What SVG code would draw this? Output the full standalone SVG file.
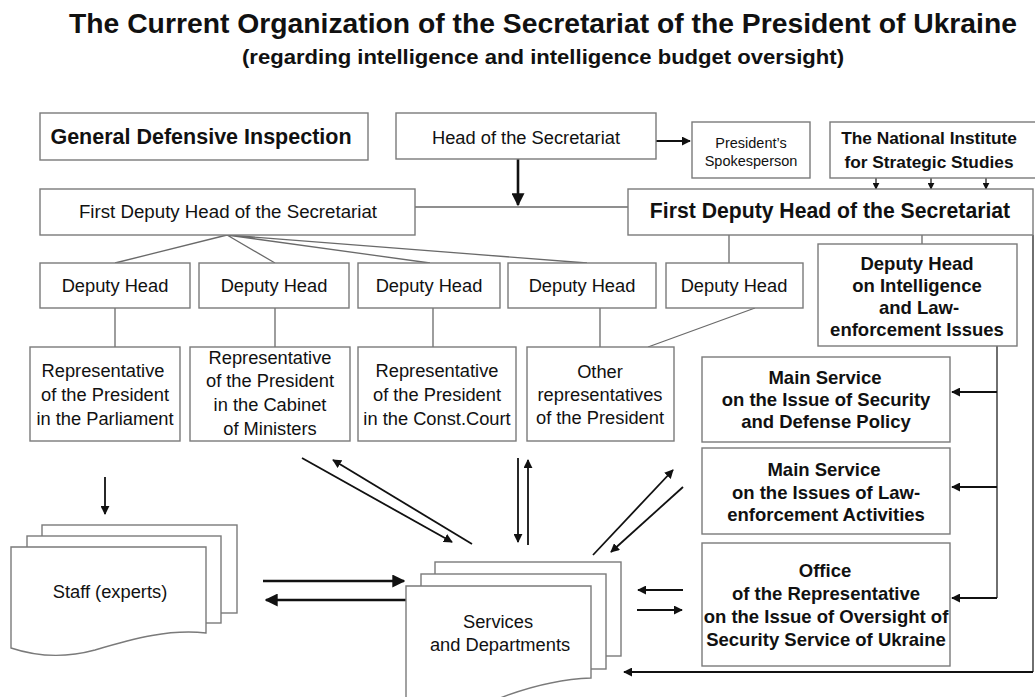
<svg xmlns="http://www.w3.org/2000/svg" width="1035" height="697" viewBox="0 0 1035 697">
<defs>
<style>
.bx{fill:#fff;stroke:#7a7a7a;stroke-width:1.4}
.t{font-family:"Liberation Sans",Arial,sans-serif;font-size:18.3px;fill:#111;text-anchor:middle}
.b{font-family:"Liberation Sans",Arial,sans-serif;font-size:18.5px;font-weight:bold;fill:#111;text-anchor:middle}
.gl{stroke:#6a6a6a;stroke-width:1.3;fill:none}
.ar{stroke:#111;stroke-width:1.8;fill:none;marker-end:url(#ah)}
.tk{stroke:#111;stroke-width:2.6;fill:none;marker-end:url(#ah)}
.ln{stroke:#333;stroke-width:1.4;fill:none}
</style>
<marker id="ah" viewBox="0 0 10 10" refX="9" refY="5" markerWidth="5" markerHeight="5" orient="auto" markerUnits="strokeWidth">
<path d="M0,0 L10,5 L0,10 Z" fill="#111"/>
</marker>
<marker id="ahs" viewBox="0 0 10 10" refX="9" refY="5" markerWidth="7" markerHeight="7" orient="auto" markerUnits="userSpaceOnUse">
<path d="M0,0 L10,5 L0,10 Z" fill="#111"/>
</marker>
</defs>
<rect width="1035" height="697" fill="#fff"/>
<g id="title">
<text x="543" y="33" textLength="948" lengthAdjust="spacingAndGlyphs" style="font-family:'Liberation Sans',Arial,sans-serif;font-size:27px;font-weight:bold;fill:#111" text-anchor="middle">The Current Organization of the Secretariat of the President of Ukraine</text>
<text x="543" y="64" textLength="602" lengthAdjust="spacingAndGlyphs" style="font-family:'Liberation Sans',Arial,sans-serif;font-size:20px;font-weight:bold;fill:#111" text-anchor="middle">(regarding intelligence and intelligence budget oversight)</text>
</g>
<g id="connectors">
<path class="tk" d="M518,158 V205"/>
<path class="ar" d="M656,141 H690"/>
<path class="ln" d="M876,178 V189" marker-end="url(#ahs)"/>
<path class="ln" d="M931,178 V189" marker-end="url(#ahs)"/>
<path class="ln" d="M986,178 V189" marker-end="url(#ahs)"/>
<path class="gl" d="M415,207 H628"/>
<path class="gl" d="M227,235 L115,263 M227,235 L275,263 M227,235 L430,263 M227,235 L587,263"/>
<path class="gl" d="M729,235 V263 M922,235 V244"/>
<path class="gl" d="M115,308 V347 M275,308 V347 M433,308 V347 M600,308 V347 M755,308 L648,347"/>
<path class="ln" d="M997,346 V598"/>
<path class="ar" d="M997,392 H952"/>
<path class="ar" d="M997,487 H952"/>
<path class="ar" d="M997,598 H952"/>
<path class="ln" d="M1033,235 V672"/>
<path class="ar" d="M1033,672 H624"/>
<path class="ar" d="M105,477 V514"/>
<path class="tk" d="M263,581 H404"/>
<path class="tk" d="M406,600 H266"/>
<path class="ar" d="M302,458 L452,542"/>
<path class="ar" d="M472,544 L333,460"/>
<path class="ar" d="M518,458 V542"/>
<path class="ar" d="M528,545 V460"/>
<path class="ar" d="M593,555 L673,470"/>
<path class="ar" d="M683,487 L611,552"/>
<path class="ar" d="M683,590 H638"/>
<path class="ar" d="M637,610 H682"/>
</g>
<g id="n-gdi">
<rect class="bx" x="40" y="113" width="328" height="47"/>
<text class="b" x="201" y="144" style="font-size:21.5px">General Defensive Inspection</text>
</g>
<g id="n-head">
<rect class="bx" x="396" y="113" width="260" height="46"/>
<text class="t" x="526" y="144">Head of the Secretariat</text>
</g>
<g id="n-spokes">
<rect class="bx" x="692" y="122" width="118" height="56"/>
<text class="t" x="751" y="148" style="font-size:14.5px">President’s</text>
<text class="t" x="751" y="166" style="font-size:14.5px">Spokesperson</text>
</g>
<g id="n-nisis">
<rect class="bx" x="830" y="122" width="210" height="56"/>
<text class="b" x="929" y="144" style="font-size:17.3px">The National Institute</text>
<text class="b" x="929" y="168" style="font-size:17.3px">for Strategic Studies</text>
</g>
<g id="n-fd-left">
<rect class="bx" x="40" y="189" width="375" height="46"/>
<text class="t" x="228" y="218" style="font-size:18.7px">First Deputy Head of the Secretariat</text>
</g>
<g id="n-fd-right">
<rect class="bx" x="628" y="189" width="405" height="46"/>
<text class="b" x="830" y="218" style="font-size:21.2px">First Deputy Head of the Secretariat</text>
</g>
<g id="n-dh1"><rect class="bx" x="40" y="263" width="150" height="45"/><text class="t" x="115" y="292">Deputy Head</text></g>
<g id="n-dh2"><rect class="bx" x="199" y="263" width="150" height="45"/><text class="t" x="274" y="292">Deputy Head</text></g>
<g id="n-dh3"><rect class="bx" x="358" y="263" width="142" height="45"/><text class="t" x="429" y="292">Deputy Head</text></g>
<g id="n-dh4"><rect class="bx" x="508" y="263" width="148" height="45"/><text class="t" x="582" y="292">Deputy Head</text></g>
<g id="n-dh5"><rect class="bx" x="666" y="263" width="137" height="45"/><text class="t" x="734" y="292">Deputy Head</text></g>
<g id="n-dhi">
<rect class="bx" x="818" y="244" width="199" height="102"/>
<text class="b" x="917" y="270">Deputy Head</text>
<text class="b" x="917" y="292">on Intelligence</text>
<text class="b" x="919" y="314">and Law-</text>
<text class="b" x="917" y="336">enforcement Issues</text>
</g>
<g id="n-r1">
<rect class="bx" x="30" y="347" width="150" height="94"/>
<text class="t" x="103" y="377">Representative</text>
<text class="t" x="105" y="401">of the President</text>
<text class="t" x="105" y="425">in the Parliament</text>
</g>
<g id="n-r2">
<rect class="bx" x="190" y="347" width="160" height="94"/>
<text class="t" x="270" y="364">Representative</text>
<text class="t" x="270" y="387">of the President</text>
<text class="t" x="270" y="411">in the Cabinet</text>
<text class="t" x="270" y="435">of Ministers</text>
</g>
<g id="n-r3">
<rect class="bx" x="358" y="347" width="158" height="94"/>
<text class="t" x="437" y="377">Representative</text>
<text class="t" x="437" y="401">of the President</text>
<text class="t" x="437" y="425">in the Const.Court</text>
</g>
<g id="n-other">
<rect class="bx" x="527" y="347" width="147" height="94"/>
<text class="t" x="600" y="378">Other</text>
<text class="t" x="600" y="401">representatives</text>
<text class="t" x="600" y="424">of the President</text>
</g>
<g id="n-ms1">
<rect class="bx" x="702" y="357" width="248" height="85"/>
<text class="b" x="825" y="384">Main Service</text>
<text class="b" x="826" y="406">on the Issue of Security</text>
<text class="b" x="826" y="428">and Defense Policy</text>
</g>
<g id="n-ms2">
<rect class="bx" x="702" y="448" width="248" height="86"/>
<text class="b" x="824" y="476">Main Service</text>
<text class="b" x="826" y="499">on the Issues of Law-</text>
<text class="b" x="826" y="521">enforcement Activities</text>
</g>
<g id="n-office">
<rect class="bx" x="702" y="543" width="248" height="123"/>
<text class="b" x="825" y="577">Office</text>
<text class="b" x="826" y="600">of the Representative</text>
<text class="b" x="826" y="623">on the Issue of Oversight of</text>
<text class="b" x="826" y="646">Security Service of Ukraine</text>
</g>
<g id="n-staff">
<rect class="bx" x="42" y="525" width="195" height="88"/>
<rect class="bx" x="27" y="536" width="194" height="87"/>
<path class="bx" d="M11,547 H206 V633 C170,629 135,638 95,650 C62,659 35,656 11,648 Z"/>
<text class="t" x="110" y="598">Staff (experts)</text>
</g>
<g id="n-services">
<rect class="bx" x="435" y="562" width="186" height="94"/>
<rect class="bx" x="421" y="574" width="185" height="95"/>
<path class="bx" d="M406,586 H591 V678 C560,679 525,688 495,700 L406,700 Z"/>
<text class="t" x="498" y="628">Services</text>
<text class="t" x="500" y="651">and Departments</text>
</g>
</svg>
